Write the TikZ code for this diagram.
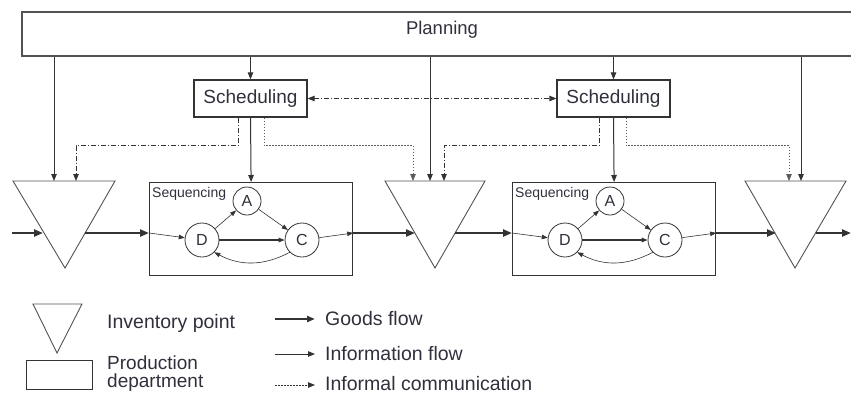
\documentclass[tikz,border=0pt]{standalone}
\usepackage{fontspec}
\setmainfont{Liberation Sans}
\usetikzlibrary{arrows.meta,calc}
\definecolor{ink}{HTML}{333333}
\definecolor{txt}{HTML}{30303C}
\begin{document}
\begin{tikzpicture}[x=1pt,y=-1pt,
 goods/.style={line width=2.2pt, draw=ink, -{Triangle[length=9pt,width=7pt]}},
 info/.style={line width=1pt, draw=ink, -{Triangle[length=7pt,width=5.5pt]}},
 thinarr/.style={line width=0.6pt, draw=ink, -{Triangle[length=6pt,width=4.5pt]}},
 informal/.style={line width=0.8pt, draw=ink, dash pattern=on 5pt off 2pt on 1pt off 2pt, -{Triangle[length=7pt,width=5.5pt]}},
 dotline/.style={line width=0.8pt, draw=ink!80, dash pattern=on 1.5pt off 1.5pt, -{Triangle[length=7pt,width=5.5pt]}},
 box/.style={draw=ink, line width=1.2pt, rectangle, inner sep=0},
 circ/.style={draw=ink, line width=0.8pt, circle, inner sep=0, fill=white, text=txt, font=\fontsize{16}{16}\selectfont},
 tri/.style={draw=ink!85, line width=0.9pt, line join=miter},
 lbl/.style={text=txt, inner sep=0, font=\fontsize{19.5}{16}\selectfont},
]
\useasboundingbox (0,0) rectangle (851,394);

% Planning
\node[box, draw=ink!85, line width=1.5pt, anchor=north west, minimum width=880pt, minimum height=44pt] (plan) at (21,11) {};
\node[lbl, font=\fontsize{18.5}{18}\selectfont] (planlbl) at (442,30) {Planning};

% Scheduling
\node[box, lbl, font=\fontsize{19}{19}\selectfont, minimum width=113pt, minimum height=37pt] (s1) at (250.5,98.5) {Scheduling};
\node[box, lbl, font=\fontsize{19}{19}\selectfont, minimum width=113pt, minimum height=37pt] (s2) at (613.5,98.5) {Scheduling};

% Production departments
\node[box, anchor=north west, minimum width=203pt, minimum height=93pt] (b1) at (149,182) {};
\node[box, anchor=north west, minimum width=203pt, minimum height=93pt] (b2) at (512,182) {};
\node[lbl, font=\fontsize{14}{14}\selectfont, anchor=base west] (seq1) at (152,197) {Sequencing};
\node[lbl, font=\fontsize{14}{14}\selectfont, anchor=base west] (seq2) at (515,197) {Sequencing};

\node[circ, minimum size=34pt] (d1) at (202,240) {D};
\node[circ, minimum size=28pt] (a1) at (247,201) {A};
\node[circ, minimum size=34pt] (c1) at (302,240) {C};
\node[circ, minimum size=34pt] (d2) at (565,240) {D};
\node[circ, minimum size=28pt] (a2) at (610,201) {A};
\node[circ, minimum size=34pt] (c2) at (665,240) {C};

% Inventory points
\draw[tri] (13,181) -- (115,181) -- (65,268) -- cycle;
\draw[tri] (385,181) -- (485,181) -- (435,268) -- cycle;
\draw[tri] (745,181) -- (846,181) -- (795,268) -- cycle;
\coordinate (t1a) at (54,181);
\coordinate (t1b) at (76,181);
\coordinate (t2a) at (413,181);
\coordinate (t2b) at (430,181);
\coordinate (t2c) at (444,181);
\coordinate (t3a) at (789,181);
\coordinate (t3b) at (801,181);
\coordinate (t1L) at (43,233);
\coordinate (t1R) at (85,233);
\coordinate (t2L) at (415,233);
\coordinate (t2R) at (455,233);
\coordinate (t3L) at (776,233);
\coordinate (t3R) at (816,233);
\coordinate (in0) at (12,233);
\coordinate (out0) at (851,233);

% Planning arrows
\draw[info] (plan.south -| t1a) -- (t1a);
\draw[info] (plan.south -| s1.north) -- (s1.north);
\draw[info] (plan.south -| t2b) -- (t2b);
\draw[info] (plan.south -| s2.north) -- (s2.north);
\draw[info] (plan.south -| t3b) -- (t3b);

% Scheduling arrows
\draw[informal, {Triangle[length=7pt,width=5.5pt]}-{Triangle[length=7pt,width=5.5pt]}] (s1.east) -- (s2.west);
\draw[informal] ([xshift=-12.5pt]s1.south) -- ++(0,28) -| (t1b);
\draw[info] (s1.south) -- (b1.north);
\draw[dotline] ([xshift=13.5pt]s1.south) -- ++(0,28) -| (t2a);
\draw[informal] ([xshift=-14.5pt]s2.south) -- ++(0,28) -| (t2c);
\draw[info] (s2.south) -- (b2.north);
\draw[dotline] ([xshift=12.5pt]s2.south) -- ++(0,28) -| (t3a);

% Goods flow
\draw[goods] (in0) -- (t1L);
\draw[goods] (t1R) -- (b1.west |- t1R);
\draw[goods] (b1.east |- t1R) -- (t2L);
\draw[goods] (t2R) -- (b2.west |- t2R);
\draw[goods] (b2.east |- t2R) -- (t3L);
\draw[goods] (t3R) -- (out0);

% Inside departments
\foreach \i in {1,2} {
  \draw[thinarr] (b\i.west |- t1R) -- (d\i);
  \draw[thinarr] (c\i) -- (b\i.east |- t1R);
  \draw[thinarr] (d\i) -- (a\i);
  \draw[thinarr] (a\i) -- (c\i);
  \draw[thinarr, line width=1.2pt] (d\i) -- (c\i);
  \draw[thinarr] (c\i.south west) to[bend left=28] (d\i.south east);
}

% Legend
\draw[tri] (33,304) -- (82,304) -- (57,353) -- cycle;
\node[box, line width=1pt, anchor=north west, minimum width=66pt, minimum height=29pt] (lrect) at (26,360) {};
\node[lbl, anchor=base west] (linv) at (107,328) {Inventory point};
\node[lbl, font=\fontsize{19}{17.5}\selectfont, anchor=north west, align=left] (lprod) at (107,356) {Production\\department};
\coordinate (g1) at (275,319); \coordinate (g2) at (315,319);
\coordinate (i1) at (275,354); \coordinate (i2) at (315,354);
\coordinate (f1) at (275,385); \coordinate (f2) at (315,385);
\draw[goods, -{Triangle[length=8pt,width=6pt]}] (g1) -- (g2);
\draw[info] (i1) -- (i2);
\draw[dotline, draw=ink] (f1) -- (f2);
\node[lbl, anchor=base west] (lgoods) at (325,325) {Goods flow};
\node[lbl, anchor=base west] (linfo) at (325,360) {Information flow};
\node[lbl, anchor=base west] (linformal) at (325,390) {Informal communication};
\end{tikzpicture}
\end{document}
